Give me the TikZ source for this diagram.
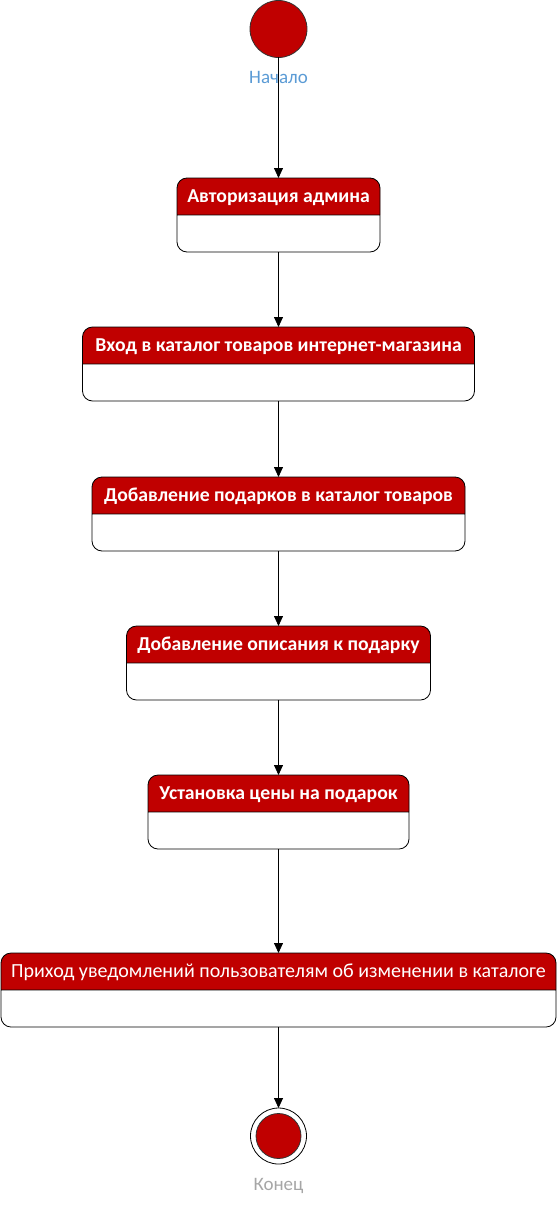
\documentclass[tikz,border=0pt]{standalone}
\usepackage{fontspec}
\setmainfont{Carlito}
\usetikzlibrary{positioning, arrows.meta, shapes.multipart}
\definecolor{stred}{RGB}{192,0,0}
\definecolor{startblue}{RGB}{91,155,213}
\definecolor{endgray}{RGB}{166,166,166}
\newcommand{\hstrut}{\rule[-12.3pt]{0pt}{36.2pt}}
\tikzset{
    >={Triangle[length=10pt,width=9pt]}, % Filled arrowheads
    every edge/.style={draw, ->, line width=0.8pt},
    statebox/.style={rectangle split, rectangle split parts=2,
        draw, line width=0.8pt, rounded corners=10pt, outer sep=0pt,
        rectangle split part fill={stred, white},
        inner xsep=10pt, inner ysep=0pt, text=white,
        font=\fontsize{19.7}{22}\bfseries\selectfont}, % Styling for states
    endpoint/.style={circle, draw=black!80, line width=0.8pt, fill=stred, outer sep=0pt},
    endlabel/.style={anchor=base, inner sep=0pt, font=\fontsize{19}{21}\selectfont},
    label distance=26pt,
}
\begin{document}
\begin{tikzpicture}
    \useasboundingbox (0pt,0pt) rectangle (557pt,-1207pt);

    \node[endpoint, minimum size=57pt,
          label={[endlabel, text=startblue]below:Начало}] (start) at (278.5pt,-29pt) {};
    \node[statebox, minimum width=203pt] (auth) [below=120.5pt of start]
        {\hstrut Авторизация админа \nodepart{two} \hstrut};
    \node[statebox, minimum width=392pt] (catalog) [below=75pt of auth]
        {\hstrut Вход в каталог товаров интернет-магазина \nodepart{two} \hstrut};
    \node[statebox, minimum width=373pt] (gifts) [below=76pt of catalog]
        {\hstrut Добавление подарков в каталог товаров \nodepart{two} \hstrut};
    \node[statebox, minimum width=304pt] (descr) [below=75pt of gifts]
        {\hstrut Добавление описания к подарку \nodepart{two} \hstrut};
    \node[statebox, minimum width=261pt] (price) [below=75pt of descr]
        {\hstrut Установка цены на подарок \nodepart{two} \hstrut};
    \node[statebox, minimum width=555pt, font=\fontsize{20}{22}\mdseries\selectfont] (notify) [below=104pt of price]
        {\hstrut Приход уведомлений пользователям об изменении в каталоге \nodepart{two} \hstrut};
    \node[circle, draw=black, line width=0.8pt, fill=white, minimum size=56pt, outer sep=0pt,
          label={[endlabel, text=endgray]below:Конец}] (end) [below=81pt of notify] {};
    \node[endpoint, minimum size=45pt] (endcore) at (end.center) {};

    \path
        (start) edge (auth)
        (auth) edge (catalog)
        (catalog) edge (gifts)
        (gifts) edge (descr)
        (descr) edge (price)
        (price) edge (notify)
        (notify) edge (end);
\end{tikzpicture}
\end{document}
